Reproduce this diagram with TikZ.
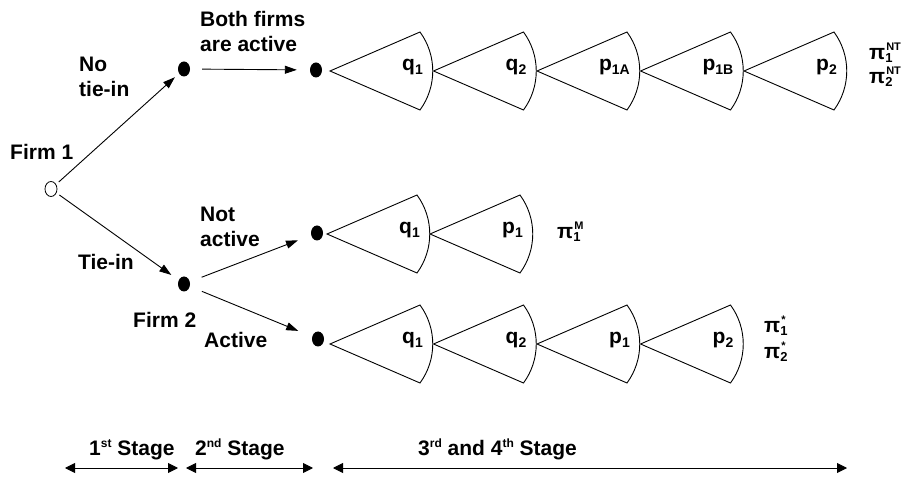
\documentclass[tikz,border=0pt]{standalone}
\usepackage{fontspec}
\setmainfont{Liberation Sans}
\usetikzlibrary{arrows.meta,shapes.geometric}
\newcommand\sz[1]{\fontsize{#1}{#1}\selectfont}
\newcommand\lsub[2]{#1\raisebox{-4pt}{\sz{14}#2}}
\newcommand\payoff[2]{{\sz{21}π}\rlap{\raisebox{-2.5pt}{\sz{13}#1}}\hspace{1pt}\raisebox{9pt}{\sz{11}#2}}
\newcommand\fan[3]{%
  \draw[fanline] (#1,#2) -- ({#1+90},{#2-39}) .. controls ({#1+107},{#2-15.7}) and ({#1+107},{#2+15.7}) .. ({#1+90},{#2+39}) -- cycle;
  \node[fanlbl] at ({#1+93},{#2}) {#3};}
\begin{document}
\begin{tikzpicture}[x=1pt,y=-1pt,
  lbl/.style={anchor=base west, inner sep=0pt, font=\bfseries\sz{21}},
  fanlbl/.style={anchor=base east, inner sep=0pt, font=\bfseries\sz{21}},
  fanline/.style={line width=0.9pt, line join=miter},
  dot/.style={ellipse, fill=black, minimum width=12pt, minimum height=15pt, inner sep=0pt},
  rootnode/.style={ellipse, draw, line width=0.8pt, fill=white, minimum width=12pt, minimum height=15pt, inner sep=0pt},
  arr/.style={-{Triangle[length=12pt,width=8pt]}, line width=0.9pt},
  stg/.style={{Triangle[length=10pt,width=10pt]}-{Triangle[length=10pt,width=10pt]}, line width=0.9pt}]
\useasboundingbox (0,0) rectangle (908,478);

% decision nodes
\node[rootnode] (A) at (51,189) {};
\node[dot] (B) at (184,69) {};
\node[dot] (C) at (316,70) {};
\node[dot] (D) at (184,284) {};
\node[dot] (E) at (317,233) {};
\node[dot] (F) at (318,339) {};

% branches
\draw[arr, shorten <=3.5pt, shorten >=5.5pt] (A) -- (B);
\draw[arr, shorten <=3.5pt, shorten >=9pt] (A) -- (D);
\draw[arr, shorten <=12pt, shorten >=13pt] (B) -- (C);
\draw[arr, shorten <=12.5pt, shorten >=14pt] (D) -- (E);
\draw[arr, shorten <=13pt, shorten >=15pt] (D) -- (F);

% branch labels
\node[lbl] (firm1) at (10,160) {Firm 1};
\node[lbl] (no) at (79,72) {No};
\node[lbl] (tiein) at (79,97) {tie-in};
\node[lbl] (both) at (200,27) {Both firms};
\node[lbl] (areact) at (200,52) {are active};
\node[lbl] (tiein2) at (78,270) {Tie-in};
\node[lbl] (firm2) at (133,328) {Firm 2};
\node[lbl] (not) at (200,222) {Not};
\node[lbl] (notact) at (200,247) {active};
\node[lbl] (act) at (204,348) {Active};

% top row fans
\fan{330}{71}{\lsub{q}{1}}
\fan{433.5}{71}{\lsub{q}{2}}
\fan{537}{71}{\lsub{p}{1A}}
\fan{640.5}{71}{\lsub{p}{1B}}
\fan{744}{71}{\lsub{p}{2}}
\node[lbl] (pay1) at (869,60) {\payoff{1}{NT}};
\node[lbl] (pay2) at (869,84) {\payoff{2}{NT}};

% middle row fans
\fan{327}{234}{\lsub{q}{1}}
\fan{430}{234}{\lsub{p}{1}}
\node[lbl] (paym) at (557,239) {\payoff{1}{M}};

% bottom row fans
\fan{330}{344}{\lsub{q}{1}}
\fan{433.5}{344}{\lsub{q}{2}}
\fan{537}{344}{\lsub{p}{1}}
\fan{640.5}{344}{\lsub{p}{2}}
\node[lbl] (pays1) at (764,333) {\payoff{1}{*}};
\node[lbl] (pays2) at (764,359) {\payoff{2}{*}};

% stages
\coordinate (s1a) at (65,468);
\coordinate (s1b) at (178,468);
\coordinate (s2a) at (186,468);
\coordinate (s2b) at (313,468);
\coordinate (s3a) at (333,468);
\coordinate (s3b) at (847,468);
\draw[stg] (s1a) -- (s1b);
\draw[stg] (s2a) -- (s2b);
\draw[stg] (s3a) -- (s3b);
\node[lbl] (st1) at (89,455) {1\raisebox{8pt}{\sz{12}st} Stage};
\node[lbl] (st2) at (195,455) {2\raisebox{8pt}{\sz{12}nd} Stage};
\node[lbl] (st3) at (418,455) {3\raisebox{8pt}{\sz{12}rd} and 4\raisebox{8pt}{\sz{12}th} Stage};
\end{tikzpicture}
\end{document}
